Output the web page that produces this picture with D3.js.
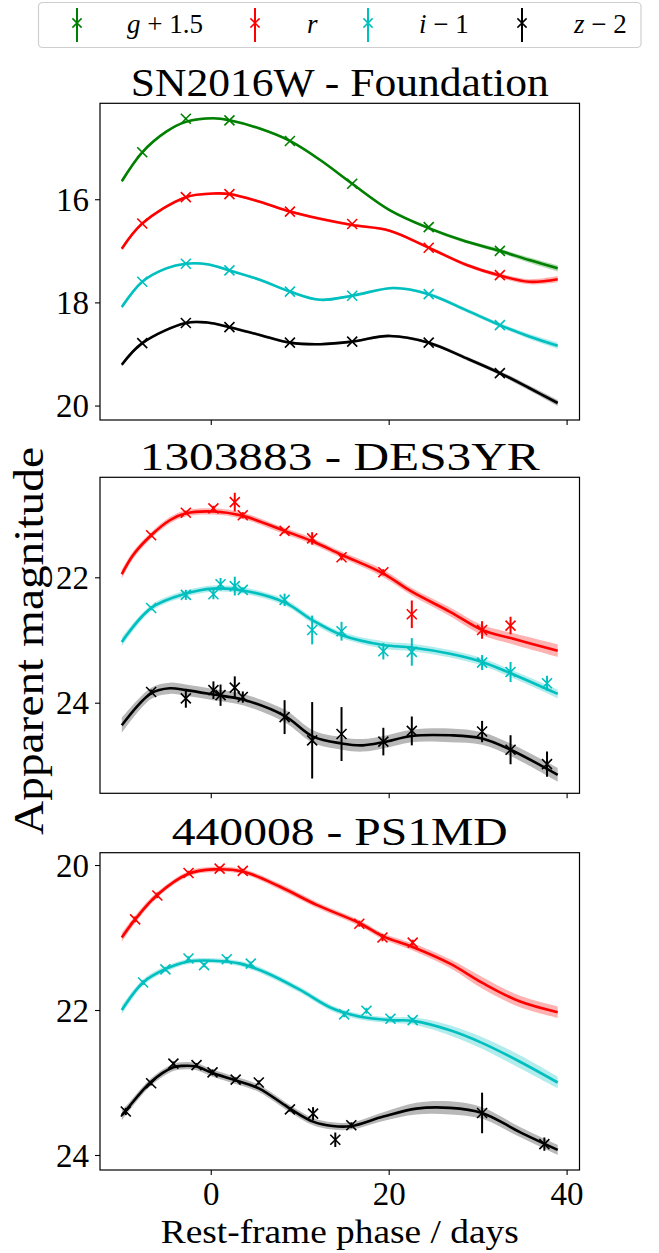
<!DOCTYPE html>
<html><head><meta charset="utf-8">
<script src="https://cdn.jsdelivr.net/npm/d3@7"></script>
<style>body{margin:0;background:#fff} svg{display:block}</style>
</head><body>
<svg id="chart" width="659" height="1253"></svg>
<script>
// ---------------- DATA ----------------
const bandNames = ["g", "r", "i", "z"];
const legendLabels = [["g", " + 1.5"], ["r", ""], ["i", " \u2212 1"], ["z", " \u2212 2"]];
const panelTitles = ["SN2016W - Foundation", "1303883 - DES3YR", "440008 - PS1MD"];
const xTickValues = [0, 20, 40];
const yTicksFoundation = [16, 18, 20];
const yTicksDES = [22, 24];
const yTicksPS1 = [20, 22, 24];
const xAxisLabel = "Rest-frame phase / days";
const yAxisLabel = "Apparent magnitude";

// Foundation: observations [phase, mag, err]
const fnd_g_obs = [[-7.7,15.09,0.02],[-2.8,14.44,0.02],[2.1,14.47,0.02],[8.9,14.87,0.02],[15.9,15.70,0.02],[24.5,16.54,0.02],[32.5,17.00,0.02]];
const fnd_r_obs = [[-7.7,16.47,0.02],[-2.8,15.96,0.02],[2.1,15.90,0.02],[8.9,16.24,0.02],[15.9,16.48,0.02],[24.5,16.94,0.02],[32.5,17.47,0.02]];
const fnd_i_obs = [[-7.7,17.60,0.02],[-2.8,17.25,0.02],[2.1,17.38,0.02],[8.9,17.79,0.02],[15.9,17.87,0.02],[24.5,17.84,0.02],[32.5,18.44,0.02]];
const fnd_z_obs = [[-7.7,18.79,0.02],[-2.8,18.40,0.02],[2.1,18.48,0.02],[8.9,18.78,0.02],[15.9,18.76,0.02],[24.5,18.78,0.02],[32.5,19.37,0.02]];
// Foundation: fits [phase, mag, sigma]
const fnd_g_fit = [[-10,15.65,0.04],[-7.7,15.09,0.03],[-5,14.69,0.025],[-2.8,14.50,0.025],[0.3,14.43,0.025],[2.1,14.47,0.025],[5.5,14.63,0.025],[8.9,14.87,0.025],[12.3,15.24,0.025],[15.9,15.70,0.025],[20.1,16.21,0.025],[24.5,16.56,0.03],[28.7,16.82,0.035],[32.5,17.00,0.04],[35.8,17.18,0.05],[39,17.34,0.06]];
const fnd_r_fit = [[-10,16.96,0.04],[-7.7,16.47,0.03],[-2.8,15.96,0.025],[0.3,15.89,0.025],[2.1,15.90,0.025],[5.5,16.05,0.025],[8.9,16.24,0.025],[12.3,16.38,0.025],[15.9,16.50,0.025],[20.1,16.61,0.025],[24.5,16.94,0.03],[28.7,17.27,0.035],[32.5,17.48,0.04],[35.8,17.60,0.05],[39,17.55,0.06]];
const fnd_i_fit = [[-10,18.09,0.04],[-7.7,17.60,0.03],[-5,17.34,0.025],[-2.8,17.25,0.025],[-0.4,17.26,0.025],[2.1,17.38,0.025],[5.5,17.56,0.025],[8.9,17.79,0.025],[12.3,17.95,0.025],[15.9,17.87,0.025],[20.6,17.72,0.025],[24.5,17.84,0.03],[28.7,18.15,0.035],[32.5,18.44,0.04],[35.8,18.66,0.05],[39,18.84,0.06]];
const fnd_z_fit = [[-10,19.21,0.04],[-7.7,18.79,0.03],[-2.8,18.40,0.025],[-0.4,18.39,0.025],[2.1,18.48,0.025],[5.5,18.63,0.025],[8.9,18.78,0.025],[12.3,18.81,0.025],[15.9,18.76,0.025],[20.1,18.65,0.025],[24.5,18.78,0.03],[28.7,19.08,0.035],[32.5,19.37,0.04],[35.8,19.66,0.05],[39,19.95,0.06]];

// DES3YR
const des_r_obs = [[-6.7,21.33,0.03],[-2.8,20.97,0.03],[0.3,20.90,0.04],[2.7,20.80,0.15],[3.6,21.01,0.05],[8.3,21.26,0.03],[11.4,21.38,0.10],[14.7,21.68,0.05],[19.4,21.92,0.05],[22.6,22.59,0.22],[30.5,22.84,0.14],[33.7,22.77,0.14]];
const des_i_obs = [[-6.7,22.49,0.03],[-2.8,22.28,0.08],[0.3,22.27,0.08],[1.1,22.11,0.10],[2.7,22.14,0.15],[3.6,22.20,0.04],[8.3,22.36,0.10],[11.4,22.84,0.23],[14.7,22.86,0.15],[19.4,23.18,0.13],[22.6,23.19,0.22],[30.5,23.36,0.12],[33.7,23.51,0.16],[37.8,23.69,0.12]];
const des_z_obs = [[-6.7,23.83,0.04],[-2.8,23.93,0.15],[0.3,23.80,0.14],[1.1,23.88,0.17],[2.7,23.76,0.18],[3.6,23.91,0.09],[8.3,24.23,0.27],[11.4,24.60,0.61],[14.7,24.50,0.43],[19.4,24.62,0.22],[22.6,24.45,0.23],[30.5,24.46,0.17],[33.7,24.75,0.23],[37.8,24.98,0.20]];
const des_r_fit = [[-10,21.95,0.07],[-8.7,21.64,0.06],[-6.7,21.33,0.05],[-4.6,21.09,0.05],[-2.8,20.98,0.05],[0.3,20.95,0.05],[3.6,21.02,0.05],[8.3,21.26,0.05],[11.5,21.43,0.05],[14.7,21.64,0.05],[19.4,21.94,0.06],[22.6,22.23,0.06],[26.9,22.55,0.07],[30.5,22.84,0.08],[33.7,22.97,0.09],[39,23.17,0.10]];
const des_i_fit = [[-10,23.03,0.07],[-6.7,22.49,0.05],[-2.8,22.26,0.05],[0.3,22.18,0.05],[3.6,22.21,0.05],[8.3,22.40,0.05],[11.5,22.69,0.05],[14.7,22.92,0.05],[19.4,23.08,0.06],[22.6,23.12,0.06],[26.9,23.22,0.06],[30.5,23.35,0.06],[33.7,23.53,0.06],[39,23.86,0.07]];
const des_z_fit = [[-10,24.36,0.12],[-6.7,23.85,0.09],[-4.6,23.77,0.09],[-2.8,23.80,0.09],[0.3,23.87,0.09],[3.6,23.95,0.09],[8.3,24.21,0.1],[11.5,24.54,0.1],[14.7,24.65,0.1],[17.1,24.68,0.1],[19.4,24.63,0.1],[22.6,24.53,0.1],[26.9,24.52,0.11],[30.5,24.57,0.1],[33.7,24.75,0.1],[39,25.15,0.11]];

// PS1MD
const ps1_r_obs = [[-8.5,20.75,0.04],[-6.0,20.42,0.04],[-2.5,20.11,0.03],[1.0,20.05,0.03],[3.6,20.08,0.03],[16.7,20.81,0.04],[19.3,21.00,0.05],[22.7,21.07,0.04]];
const ps1_i_obs = [[-7.6,21.62,0.03],[-5.1,21.44,0.03],[-2.5,21.29,0.03],[-0.75,21.38,0.03],[1.8,21.30,0.03],[4.5,21.36,0.03],[15.0,22.06,0.04],[17.5,22.01,0.04],[20.2,22.12,0.03],[22.7,22.14,0.03]];
const ps1_z_obs = [[-9.55,23.40,0.05],[-6.7,23.01,0.03],[-4.2,22.74,0.03],[-1.6,22.76,0.03],[0.2,22.86,0.04],[2.8,22.96,0.03],[5.4,23.00,0.03],[8.9,23.37,0.03],[11.5,23.43,0.09],[14.0,23.79,0.10],[15.8,23.59,0.04],[30.5,23.42,0.28],[37.5,23.85,0.09]];
const ps1_r_fit = [[-10,21.00,0.06],[-8.5,20.75,0.05],[-6.0,20.41,0.04],[-2.5,20.12,0.035],[0.3,20.06,0.035],[3.6,20.09,0.035],[7.8,20.30,0.04],[11.9,20.55,0.04],[16.7,20.80,0.04],[19.3,20.98,0.04],[22.7,21.13,0.05],[26.9,21.36,0.06],[30.6,21.63,0.08],[34.7,21.88,0.08],[39,22.03,0.08]];
const ps1_i_fit = [[-10,22.00,0.06],[-7.6,21.62,0.045],[-5.0,21.43,0.04],[-2.5,21.33,0.035],[0.3,21.32,0.035],[3.3,21.36,0.035],[6.3,21.49,0.04],[10.0,21.72,0.04],[13.7,21.98,0.04],[16.7,22.09,0.04],[20.2,22.14,0.04],[22.7,22.15,0.05],[26.9,22.28,0.07],[30.6,22.46,0.08],[34.7,22.71,0.09],[39,23.00,0.08]];
const ps1_z_fit = [[-10,23.45,0.07],[-9.5,23.38,0.06],[-6.7,22.99,0.05],[-4.2,22.79,0.05],[-3.1,22.77,0.05],[-1.6,22.78,0.05],[0.2,22.87,0.05],[2.8,22.97,0.05],[5.4,23.08,0.05],[8.9,23.36,0.05],[11.5,23.54,0.05],[13.7,23.60,0.05],[15.8,23.60,0.05],[19.4,23.47,0.06],[23.1,23.36,0.08],[26.9,23.35,0.09],[30.5,23.42,0.08],[34.7,23.68,0.07],[39,23.93,0.07]];

// ---------------- STYLE / LAYOUT ----------------
const colors = {g: "#008000", r: "#ff0000", i: "#00bfbf", z: "#000000"};

// pick an installed serif face, if any
function pickFont(cands) {
  const ctx = document.createElement("canvas").getContext("2d");
  const probe = "SN2016W - Foundation magnitude 0123456789";
  ctx.font = "40px monospace"; const wm = ctx.measureText(probe).width;
  ctx.font = "40px sans-serif"; const ws = ctx.measureText(probe).width;
  for (const c of cands) {
    ctx.font = `40px '${c}', monospace`; const a = ctx.measureText(probe).width;
    ctx.font = `40px '${c}', sans-serif`; const b = ctx.measureText(probe).width;
    if (Math.abs(a - wm) > 0.5 && Math.abs(b - ws) > 0.5) return `'${c}'`;
  }
  return "serif";
}
const FONT = pickFont(["Liberation Serif", "DejaVu Serif", "Tinos", "Times New Roman", "Noto Serif", "FreeSerif", "Nimbus Roman", "Nimbus Roman No9 L", "Latin Modern Roman", "CMU Serif", "Noto Serif CJK SC", "Noto Serif CJK JP"]) + ", serif";

const axL = 100, axR = 579.5;
const layout = [
  {top: 103.3, bottom: 420, ydom: [14.14, 20.28], titleY: 96, titleW: 418},
  {top: 477.3, bottom: 793.3, ydom: [20.405, 25.445], titleY: 470, titleW: 400},
  {top: 852.7, bottom: 1170, ydom: [19.83, 24.207], titleY: 845, titleW: 336}
];

const panels = [
  {title: panelTitles[0], yTicks: yTicksFoundation, series: [
    {band: "g", obs: fnd_g_obs, fit: fnd_g_fit},
    {band: "r", obs: fnd_r_obs, fit: fnd_r_fit},
    {band: "i", obs: fnd_i_obs, fit: fnd_i_fit},
    {band: "z", obs: fnd_z_obs, fit: fnd_z_fit}]},
  {title: panelTitles[1], yTicks: yTicksDES, series: [
    {band: "r", obs: des_r_obs, fit: des_r_fit},
    {band: "i", obs: des_i_obs, fit: des_i_fit},
    {band: "z", obs: des_z_obs, fit: des_z_fit}]},
  {title: panelTitles[2], yTicks: yTicksPS1, series: [
    {band: "r", obs: ps1_r_obs, fit: ps1_r_fit},
    {band: "i", obs: ps1_i_obs, fit: ps1_i_fit},
    {band: "z", obs: ps1_z_obs, fit: ps1_z_fit}]}
];

// ---------------- DRAW ----------------
const svg = d3.select("#chart");
const x = d3.scaleLinear().domain([-12.45, 41.45]).range([axL, axR]);

function fitTo(sel, target) {
  const w = sel.node().getComputedTextLength();
  if (w > 0) sel.attr("textLength", target).attr("lengthAdjust", "spacingAndGlyphs");
}

panels.forEach((p, k) => {
  const L = layout[k];
  const y = d3.scaleLinear().domain(L.ydom).range([L.top, L.bottom]);
  const g = svg.append("g");
  const clipId = "clip" + k;
  svg.append("clipPath").attr("id", clipId).append("rect")
    .attr("x", axL).attr("y", L.top).attr("width", axR - axL).attr("height", L.bottom - L.top);
  const plot = g.append("g").attr("clip-path", `url(#${clipId})`);

  const area = d3.area().curve(d3.curveCatmullRom.alpha(0.5))
    .x(d => x(d[0])).y0(d => y(d[1] - d[2])).y1(d => y(d[1] + d[2]));
  const line = d3.line().curve(d3.curveCatmullRom.alpha(0.5))
    .x(d => x(d[0])).y(d => y(d[1]));

  p.series.forEach(s => {
    const c = colors[s.band];
    plot.append("path").datum(s.fit).attr("d", area)
      .attr("fill", c).attr("fill-opacity", s.band === "z" ? 0.28 : 0.3).attr("stroke", "none");
    plot.append("path").datum(s.fit).attr("d", line)
      .attr("fill", "none").attr("stroke", c).attr("stroke-width", 2.6);
  });
  p.series.forEach(s => {
    const c = colors[s.band];
    const pts = plot.append("g").selectAll("g").data(s.obs).join("g");
    pts.append("line")
      .attr("x1", d => x(d[0])).attr("x2", d => x(d[0]))
      .attr("y1", d => y(d[1] - d[2])).attr("y2", d => y(d[1] + d[2]))
      .attr("stroke", c).attr("stroke-width", 2);
    const ms = 5;
    pts.append("path")
      .attr("d", d => { const cx = x(d[0]), cy = y(d[1]);
        return `M${cx-ms},${cy-ms}L${cx+ms},${cy+ms}M${cx-ms},${cy+ms}L${cx+ms},${cy-ms}`; })
      .attr("stroke", c).attr("stroke-width", 1.6).attr("fill", "none");
  });

  // frame
  g.append("rect").attr("x", axL).attr("y", L.top).attr("width", axR - axL).attr("height", L.bottom - L.top)
    .attr("fill", "none").attr("stroke", "#000").attr("stroke-width", 1.2);

  // y axis
  const ya = g.append("g").attr("transform", `translate(${axL},0)`)
    .call(d3.axisLeft(y).tickValues(p.yTicks).tickFormat(d3.format("d")).tickSize(5).tickPadding(6));
  ya.select(".domain").remove();
  ya.selectAll("line").attr("stroke", "#000").attr("stroke-width", 1.1);
  ya.selectAll("text").attr("font-family", FONT).attr("font-size", 33).attr("fill", "#000").attr("dy", "0.34em");

  // x axis
  const xa = g.append("g").attr("transform", `translate(0,${L.bottom})`)
    .call(d3.axisBottom(x).tickValues(xTickValues).tickFormat(k === 2 ? d3.format("d") : () => "").tickSize(5).tickPadding(7));
  xa.select(".domain").remove();
  xa.selectAll("line").attr("stroke", "#000").attr("stroke-width", 1.1);
  xa.selectAll("text").attr("font-family", FONT).attr("font-size", 33).attr("fill", "#000");

  // title
  const t = g.append("text").attr("x", (axL + axR) / 2).attr("y", L.titleY).attr("text-anchor", "middle")
    .attr("font-family", FONT).attr("font-size", 41).attr("fill", "#000").text(p.title);
  fitTo(t, L.titleW);
});

// axis labels
const xl = svg.append("text").attr("x", (axL + axR) / 2).attr("y", 1243).attr("text-anchor", "middle")
  .attr("font-family", FONT).attr("font-size", 34).attr("fill", "#000").text(xAxisLabel);
fitTo(xl, 358);
const yl = svg.append("text").attr("transform", "translate(43,641) rotate(-90)").attr("text-anchor", "middle")
  .attr("font-family", FONT).attr("font-size", 43).attr("fill", "#000").text(yAxisLabel);
fitTo(yl, 388);

// legend
const leg = svg.append("g");
leg.append("rect").attr("x", 38.5).attr("y", 2.5).attr("width", 602.5).attr("height", 45).attr("rx", 4)
  .attr("fill", "#fff").attr("stroke", "#cfcfcf").attr("stroke-width", 1.2);
const legMarkX = [77, 255, 368, 522];
const legTextX = [127, 307, 419, 574];
bandNames.forEach((b, i) => {
  const c = colors[b], mx = legMarkX[i], cy = 23;
  leg.append("line").attr("x1", mx).attr("x2", mx).attr("y1", 8).attr("y2", 42).attr("stroke", c).attr("stroke-width", 2);
  const ms = 4.6;
  leg.append("path").attr("d", `M${mx-ms},${cy-ms}L${mx+ms},${cy+ms}M${mx-ms},${cy+ms}L${mx+ms},${cy-ms}`)
    .attr("stroke", c).attr("stroke-width", 1.5).attr("fill", "none");
  const t = leg.append("text").attr("x", legTextX[i]).attr("y", 33).attr("font-family", FONT)
    .attr("font-size", 27).attr("fill", "#000");
  t.append("tspan").attr("font-style", "italic").text(legendLabels[i][0]);
  if (legendLabels[i][1]) t.append("tspan").text(legendLabels[i][1]);
});
</script>
</body></html>
